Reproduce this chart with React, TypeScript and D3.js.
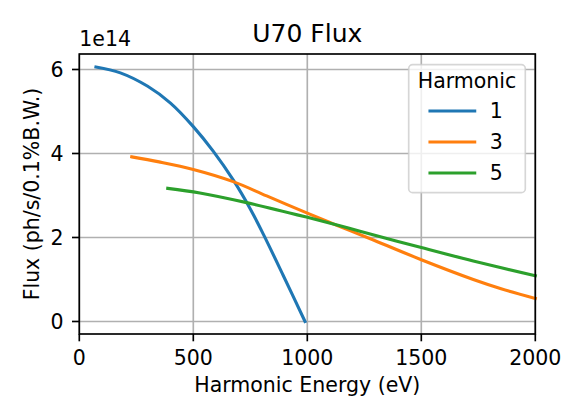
import * as d3 from "d3"

// Harmonic energy (eV) and flux (ph/s/0.1%B.W.)
const h1Energy = [73, 180, 300, 400, 500, 588, 675, 750, 807, 895, 990]
const h1Flux = [6.06e14, 5.92e14, 5.6e14, 5.2e14, 4.64e14, 4.05e14, 3.37e14, 2.68e14, 2.08e14, 1.09e14, 0]

const h3Energy = [230, 350, 500, 675, 822, 1000, 1143, 1290, 1500, 1728, 1850, 2000]
const h3Flux = [3.92e14, 3.8e14, 3.62e14, 3.33e14, 2.99e14, 2.58e14, 2.26e14, 1.94e14, 1.47e14, 1.0e14, 0.78e14, 0.55e14]

const h5Energy = [388, 529, 734, 1000, 1143, 1231, 1500, 1728, 2000]
const h5Flux = [3.17e14, 3.06e14, 2.83e14, 2.48e14, 2.28e14, 2.15e14, 1.76e14, 1.44e14, 1.09e14]

const harmonics = ["1", "3", "5"]
const xTicks = [0, 500, 1000, 1500, 2000]
const yTicks = [0, 2e14, 4e14, 6e14]

const COLORS = ["#1f77b4", "#ff7f0e", "#2ca02c"]
const FONT = "DejaVu Sans, sans-serif"
const W = 586
const H = 420

export default function App() {
  const x = d3.scaleLinear().domain([0, 2000]).range([79.3, 535.3])
  const y = d3.scaleLinear().domain([-0.298e14, 6.369e14]).range([334, 54])
  const [x0, x1] = x.range()
  const [y0, y1] = y.range()

  const series = [
    { name: harmonics[0], e: h1Energy, f: h1Flux },
    { name: harmonics[1], e: h3Energy, f: h3Flux },
    { name: harmonics[2], e: h5Energy, f: h5Flux },
  ]

  const line = d3
    .line<[number, number]>()
    .x((d) => x(d[0]))
    .y((d) => y(d[1]))
    .curve(d3.curveCatmullRom.alpha(0.5))

  const legendX = 408.7
  const legendY = 64.7

  return (
    <svg
      width={W}
      height={H}
      style={{ position: "absolute", left: 0, top: 0, background: "white" }}
      fontFamily={FONT}
    >
      {/* grid */}
      {xTicks.map((t) => (
        <line key={`gx${t}`} x1={x(t)} x2={x(t)} y1={y0} y2={y1} stroke="#b0b0b0" strokeWidth={1.67} />
      ))}
      {yTicks.map((t) => (
        <line key={`gy${t}`} x1={x0} x2={x1} y1={y(t)} y2={y(t)} stroke="#b0b0b0" strokeWidth={1.67} />
      ))}

      {series.map((s, i) => (
        <path
          key={s.name}
          d={line(s.e.map((e, j) => [e, s.f[j]] as [number, number])) ?? ""}
          fill="none"
          stroke={COLORS[i]}
          strokeWidth={3.1}
          strokeLinecap="square"
          strokeLinejoin="round"
        />
      ))}

      {/* spines */}
      <rect x={x0} y={y1} width={x1 - x0} height={y0 - y1} fill="none" stroke="black" strokeWidth={1.67} />

      {/* x ticks */}
      {xTicks.map((t) => (
        <g key={`xt${t}`}>
          <line x1={x(t)} x2={x(t)} y1={y0} y2={y0 + 7.3} stroke="black" strokeWidth={1.67} />
          <text x={x(t)} y={364.5} textAnchor="middle" fontSize={20.5}>
            {t}
          </text>
        </g>
      ))}
      {/* y ticks */}
      {yTicks.map((t) => (
        <g key={`yt${t}`}>
          <line x1={x0 - 7.3} x2={x0} y1={y(t)} y2={y(t)} stroke="black" strokeWidth={1.67} />
          <text x={63.5} y={y(t) + 7.3} textAnchor="end" fontSize={20.5}>
            {t / 1e14}
          </text>
        </g>
      ))}
      <text x={x0} y={46} fontSize={20.5}>
        1e14
      </text>

      <text x={(x0 + x1) / 2} y={41.7} textAnchor="middle" fontSize={25}>
        U70 Flux
      </text>
      <text x={(x0 + x1) / 2} y={392.3} textAnchor="middle" fontSize={20.5}>
        Harmonic Energy (eV)
      </text>
      <text
        transform={`translate(39,${(y0 + y1) / 2}) rotate(-90)`}
        textAnchor="middle"
        fontSize={20.5}
      >
        Flux (ph/s/0.1%B.W.)
      </text>

      {/* legend */}
      <g transform={`translate(${legendX},${legendY})`}>
        <rect
          x={0}
          y={0}
          width={116.6}
          height={128}
          rx={4}
          fill="white"
          fillOpacity={0.8}
          stroke="#cccccc"
          strokeOpacity={0.8}
          strokeWidth={1.67}
        />
        <text x={58.3} y={23} textAnchor="middle" fontSize={20.5}>
          Harmonic
        </text>
        {series.map((s, i) => (
          <g key={`lg${s.name}`} transform={`translate(0,${46.3 + i * 31})`}>
            <line x1={21.3} x2={66} y1={0} y2={0} stroke={COLORS[i]} strokeWidth={3.1} strokeLinecap="square" />
            <text x={81} y={7.3} fontSize={20.5}>
              {s.name}
            </text>
          </g>
        ))}
      </g>
    </svg>
  )
}
